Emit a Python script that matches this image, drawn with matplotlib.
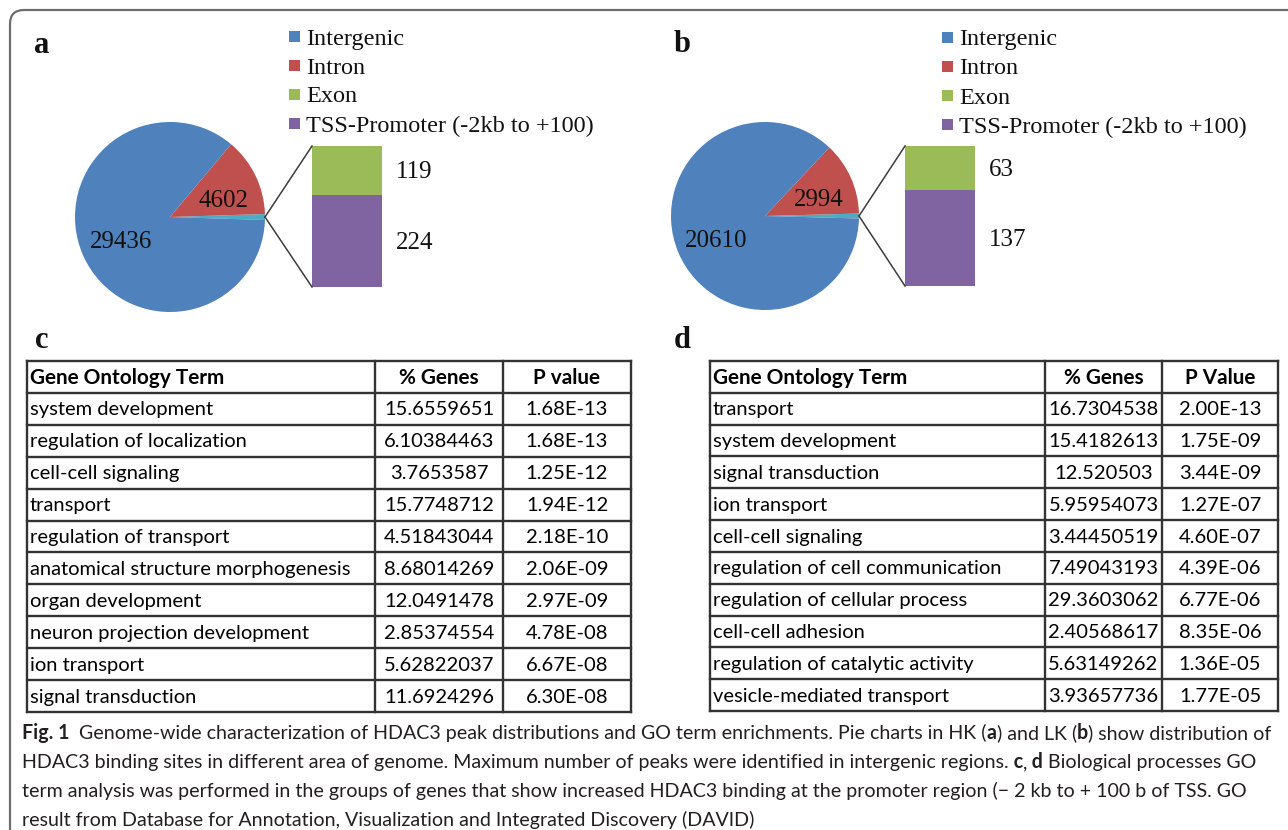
import matplotlib
matplotlib.use("Agg")
import matplotlib.pyplot as plt
from matplotlib.patches import FancyBboxPatch, Rectangle

# ---------------- data ----------------
region_labels = ["Intergenic", "Intron", "Exon", "TSS-Promoter (-2kb to +100)"]
region_colors = ["#4F81BD", "#C0504D", "#9BBB59", "#8064A2"]
other_color = "#4BACC6"
hk_counts = [29436, 4602, 119, 224]   # panel a
lk_counts = [20610, 2994, 63, 137]    # panel b

header_c = ["Gene Ontology Term", "% Genes", "P value"]
terms_c = ["system development", "regulation of localization", "cell-cell signaling",
           "transport", "regulation of transport", "anatomical structure morphogenesis",
           "organ development", "neuron projection development", "ion transport",
           "signal transduction"]
genes_c = [15.6559651, 6.10384463, 3.7653587, 15.7748712, 4.51843044,
           8.68014269, 12.0491478, 2.85374554, 5.62822037, 11.6924296]
pvals_c = [1.68e-13, 1.68e-13, 1.25e-12, 1.94e-12, 2.18e-10,
           2.06e-09, 2.97e-09, 4.78e-08, 6.67e-08, 6.30e-08]

header_d = ["Gene Ontology Term", "% Genes", "P Value"]
terms_d = ["transport", "system development", "signal transduction", "ion transport",
           "cell-cell signaling", "regulation of cell communication",
           "regulation of cellular process", "cell-cell adhesion",
           "regulation of catalytic activity", "vesicle-mediated transport"]
genes_d = [16.7304538, 15.4182613, 12.520503, 5.95954073, 3.44450519,
           7.49043193, 29.3603062, 2.40568617, 5.63149262, 3.93657736]
pvals_d = [2.00e-13, 1.75e-09, 3.44e-09, 1.27e-07, 4.60e-07,
           4.39e-06, 6.77e-06, 8.35e-06, 1.36e-05, 1.77e-05]

caption_lines = [
    [("Fig. 1", True), ("  Genome-wide characterization of HDAC3 peak distributions and GO term enrichments. Pie charts in HK (", False),
     ("a", True), (") and LK (", False), ("b", True), (") show distribution of", False)],
    [("HDAC3 binding sites in different area of genome. Maximum number of peaks were identified in intergenic regions.", False),
     (" c", True), (",", False), (" d", True), (" Biological processes GO", False)],
    [("term analysis was performed in the groups of genes that show increased HDAC3 binding at the promoter region (\u2212 2 kb to + 100 b of TSS. GO", False)],
    [("result from Database for Annotation, Visualization and Integrated Discovery (DAVID)", False)],
]

# ---------------- figure ----------------
W, H = 1288, 830
fig = plt.figure(figsize=(W / 100, H / 100), dpi=100)
ax = fig.add_axes([0, 0, 1, 1])
renderer = fig.canvas.get_renderer()

SERIF = ["Liberation Serif", "DejaVu Serif"]
TABF = ["Lato", "DejaVu Sans"]
CAPF = ["Lato", "DejaVu Sans"]

# frame
ax.add_patch(FancyBboxPatch((10, 10), W + 40, H + 40,
                            boxstyle="round,pad=0,rounding_size=14",
                            fc="none", ec="#6e6e6e", lw=1.6, zorder=0))


def pie_of_pie(counts, center, radius, bar_left, bar_w, bar_bottom, bar_h,
               legend_x, legend_y0, letter, letter_xy):
    inter, intron, exon, tss = counts
    other = exon + tss
    total = inter + intron + other
    half = 180.0 * other / total
    ax.pie([other, intron, inter], colors=[other_color, region_colors[1], region_colors[0]],
           center=center, radius=radius, startangle=half, counterclock=False,
           frame=True, wedgeprops=dict(linewidth=0))
    scale = bar_h / other
    xc = bar_left + bar_w / 2
    ax.bar(xc, -tss * scale, bottom=bar_bottom, width=bar_w, color=region_colors[3], lw=0)
    ax.bar(xc, -exon * scale, bottom=bar_bottom - tss * scale, width=bar_w,
           color=region_colors[2], lw=0)
    bar_top = bar_bottom - other * scale
    cx, cy = center
    ax.plot([cx + radius, bar_left], [cy, bar_top], color="#3c3c3c", lw=1.1)
    ax.plot([cx + radius, bar_left], [cy, bar_bottom], color="#3c3c3c", lw=1.1)
    # numbers
    fs = 18
    ax.text(bar_left + bar_w + 14, bar_top + exon * scale / 2 + 2, str(exon),
            family=SERIF, fontsize=fs, ha="left", va="center", color="#111")
    ax.text(bar_left + bar_w + 14, bar_bottom - tss * scale / 2 + 2, str(tss),
            family=SERIF, fontsize=fs, ha="left", va="center", color="#111")
    ax.text(cx + 54, cy - 16, str(intron), family=SERIF, fontsize=fs,
            ha="center", va="center", color="#111")
    ax.text(cx - 49, cy + 25, str(inter), family=SERIF, fontsize=fs,
            ha="center", va="center", color="#111")
    # legend
    for i, (lab, col) in enumerate(zip(region_labels, region_colors)):
        y = legend_y0 + 29 * i
        ax.add_patch(Rectangle((legend_x, y - 5.5), 11, 11, fc=col, ec="none"))
        ax.text(legend_x + 17, y + 2, lab, family=SERIF, fontsize=17.5,
                ha="left", va="center", color="#111")
    ax.text(letter_xy[0], letter_xy[1], letter, family=SERIF, fontsize=22,
            fontweight="bold", ha="center", va="baseline", color="#111")


pie_of_pie(hk_counts, (170, 217), 95, 312, 70, 287, 141, 289, 37, "a", (42, 53))
pie_of_pie(lk_counts, (765, 216), 94, 905, 70, 286, 140, 942, 38, "b", (682, 52))


def fit_size(text, family, weight, target, ref=20.0):
    t = ax.text(0, 0, text, fontsize=ref, family=family, fontweight=weight)
    w = t.get_window_extent(renderer).width
    t.remove()
    return ref * target / w


tab_fs = fit_size("regulation of cell communication", TABF, "normal", 290)


def draw_table(x_edges, top, bottom, header, terms, genes, pvals, letter, letter_xy):
    nrows = len(terms) + 1
    rh = (bottom - top) / nrows
    lc = "#333333"
    for i in range(nrows + 1):
        ax.plot([x_edges[0], x_edges[-1]], [top + i * rh] * 2, color=lc, lw=1.7,
                solid_capstyle="projecting")
    for x in x_edges:
        ax.plot([x, x], [top, bottom], color=lc, lw=1.7, solid_capstyle="projecting")
    c1 = (x_edges[1] + x_edges[2]) / 2
    c2 = (x_edges[2] + x_edges[3]) / 2
    y = top + rh / 2 + 1
    ax.text(x_edges[0] + 3, y, header[0], family=TABF, fontsize=tab_fs * 1.03,
            fontweight="bold", ha="left", va="center", color="#000")
    ax.text(c1, y, header[1], family=TABF, fontsize=tab_fs * 1.03, fontweight="bold",
            ha="center", va="center", color="#000")
    ax.text(c2, y, header[2], family=TABF, fontsize=tab_fs * 1.03, fontweight="bold",
            ha="center", va="center", color="#000")
    for k, (t, g, p) in enumerate(zip(terms, genes, pvals)):
        y = top + (k + 1.5) * rh + 1
        ax.text(x_edges[0] + 3, y, t, family=TABF, fontsize=tab_fs,
                ha="left", va="center", color="#000")
        ax.text(c1, y, str(g), family=TABF, fontsize=tab_fs,
                ha="center", va="center", color="#000")
        ax.text(c2, y, "{:.2E}".format(p), family=TABF, fontsize=tab_fs,
                ha="center", va="center", color="#000")
    ax.text(letter_xy[0], letter_xy[1], letter, family=SERIF, fontsize=22,
            fontweight="bold", ha="center", va="baseline", color="#111")


draw_table([27, 375, 503, 631], 361, 712, header_c, terms_c, genes_c, pvals_c, "c", (42, 348))
draw_table([710, 1045, 1162, 1278], 361, 711, header_d, terms_d, genes_d, pvals_d, "d", (682, 348))


# caption
def draw_runs(x, y, runs, size):
    objs = []
    for text, bold in runs:
        t = ax.text(x, y, text, family=CAPF, fontsize=size,
                    fontweight="bold" if bold else "normal",
                    ha="left", va="baseline", color="#231f20")
        x += t.get_window_extent(renderer).width
        objs.append(t)
    return x, objs


x_end, objs = draw_runs(22, 744, caption_lines[0], 12)
for o in objs:
    o.remove()
cap_fs = 12 * 1240 / (x_end - 22)
for i, runs in enumerate(caption_lines):
    draw_runs(22, 739 + 29 * i, runs, cap_fs)

ax.set_xlim(0, W)
ax.set_ylim(H, 0)
ax.set_aspect("auto")
ax.axis("off")
fig.savefig("out.png", dpi=100)
